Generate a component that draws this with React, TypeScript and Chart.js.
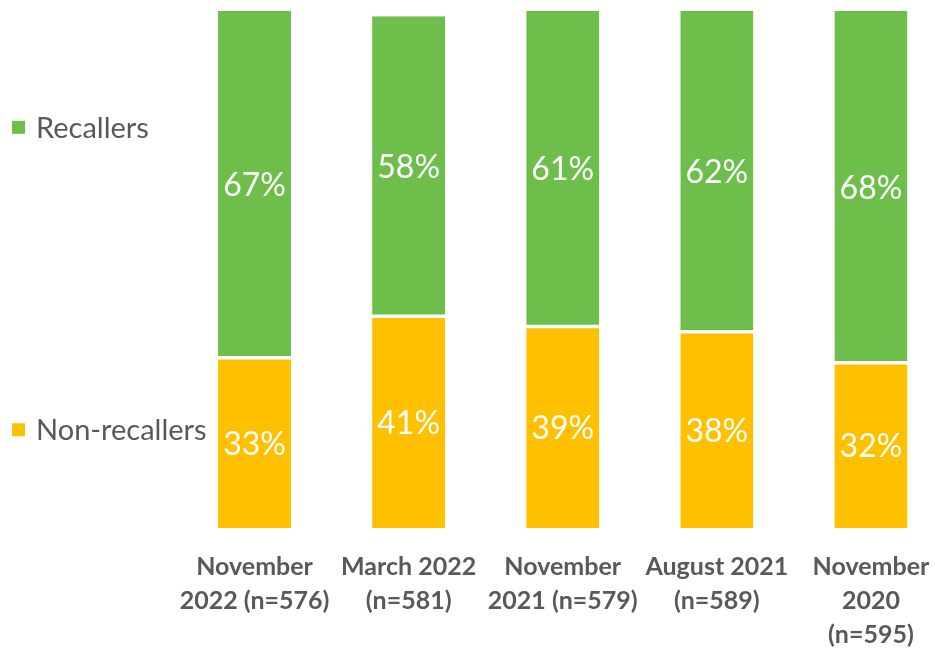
import React, { useEffect, useRef } from "react";
import { Chart, registerables } from "chart.js";

Chart.register(...registerables);

const categories: string[][] = [
  ["November", "2022 (n=576)"],
  ["March 2022", "(n=581)"],
  ["November", "2021 (n=579)"],
  ["August 2021", "(n=589)"],
  ["November", "2020", "(n=595)"],
];
const nonRecallers = [33, 41, 39, 38, 32];
const recallers = [67, 58, 61, 62, 68];
const seriesNames = ["Non-recallers", "Recallers"];
const seriesColors = ["#FFC000", "#6DBE4B"];

const FONT = "Lato, 'Noto Sans', sans-serif";
const TEXT_GRAY = "#595959";

const valueLabels = {
  id: "valueLabels",
  afterDatasetsDraw(chart: any) {
    const ctx = chart.ctx;
    ctx.save();
    ctx.fillStyle = "#FFFFFF";
    ctx.font = `32px ${FONT}`;
    ctx.textAlign = "center";
    ctx.textBaseline = "middle";
    chart.data.datasets.forEach((ds: any, i: number) => {
      const meta = chart.getDatasetMeta(i);
      meta.data.forEach((el: any, j: number) => {
        const p = el.getCenterPoint();
        ctx.fillText(`${ds.data[j]}%`, p.x, p.y + 1.5);
      });
    });
    ctx.restore();
  },
};

const sideLegend = {
  id: "sideLegend",
  afterDraw(chart: any) {
    const ctx = chart.ctx;
    const { top, bottom } = chart.chartArea;
    const h = bottom - top;
    const items = [
      { name: seriesNames[1], color: seriesColors[1], frac: 0.225 },
      { name: seriesNames[0], color: seriesColors[0], frac: 0.81 },
    ];
    ctx.save();
    ctx.font = `29px ${FONT}`;
    ctx.textBaseline = "middle";
    ctx.textAlign = "left";
    items.forEach((it) => {
      const cy = top + h * it.frac;
      ctx.fillStyle = it.color;
      ctx.fillRect(12, cy - 6.5, 13, 13);
      ctx.fillStyle = TEXT_GRAY;
      ctx.fillText(it.name, 36, cy + 1);
    });
    ctx.restore();
  },
};

export default function App() {
  const ref = useRef<HTMLCanvasElement | null>(null);
  useEffect(() => {
    if (!ref.current) return;
    const chart = new Chart(ref.current, {
      type: "bar",
      data: {
        labels: categories as any,
        datasets: [
          {
            label: seriesNames[0],
            data: nonRecallers,
            backgroundColor: seriesColors[0],
            borderColor: "#FFFFFF",
            borderWidth: { top: 2, bottom: 0, left: 0, right: 0 },
            borderSkipped: false,
          },
          {
            label: seriesNames[1],
            data: recallers,
            backgroundColor: seriesColors[1],
            borderColor: "#FFFFFF",
            borderWidth: { top: 0, bottom: 1.5, left: 0, right: 0 },
            borderSkipped: false,
          },
        ],
      },
      options: {
        responsive: false,
        animation: false,
        devicePixelRatio: 1,
        layout: { padding: { left: 177.5, top: 11, right: 0, bottom: 0 } },
        datasets: { bar: { barPercentage: 0.474, categoryPercentage: 1 } },
        plugins: { legend: { display: false }, tooltip: { enabled: false } },
        scales: {
          x: {
            stacked: true,
            grid: { display: false },
            border: { display: false },
            ticks: {
              color: TEXT_GRAY,
              font: { family: FONT, size: 25, weight: "bold", lineHeight: 1.36 },
              maxRotation: 0,
              minRotation: 0,
              autoSkip: false,
              padding: 14,
            },
            afterFit(scale: any) {
              scale.height = 120;
            },
          },
          y: { stacked: true, display: false, min: 0, max: 100 },
        },
      },
      plugins: [valueLabels, sideLegend],
    });
    return () => chart.destroy();
  }, []);
  return (
    <div
      style={{
        position: "fixed",
        left: 0,
        top: 0,
        width: 935,
        height: 648,
        overflow: "hidden",
        background: "#FFFFFF",
      }}
    >
      <canvas ref={ref} width={948} height={648} style={{ display: "block" }} />
    </div>
  );
}
